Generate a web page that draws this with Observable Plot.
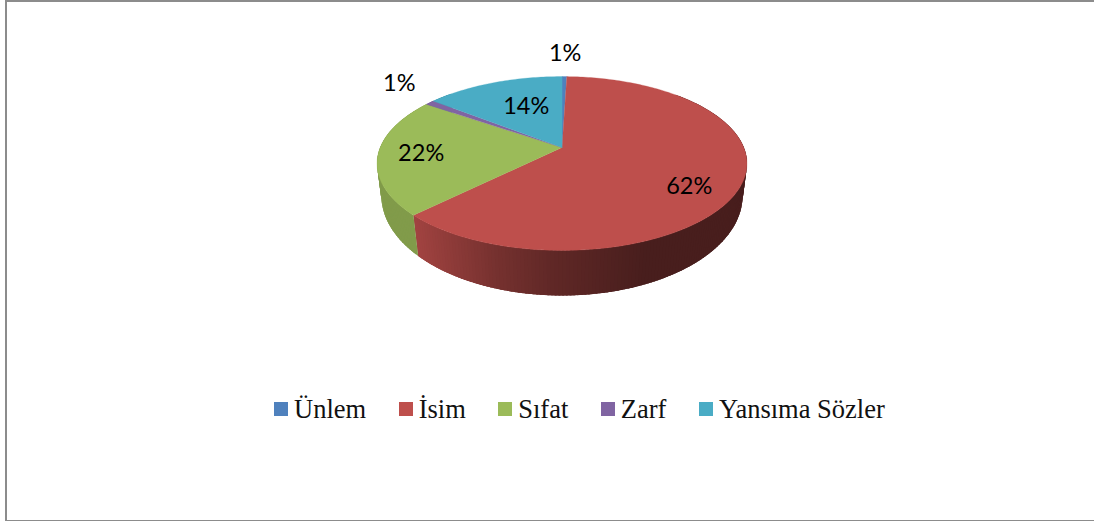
<!DOCTYPE html>
<html lang="tr">
<head>
<meta charset="utf-8">
<script src="https://cdn.jsdelivr.net/npm/d3@7"></script>
<script src="https://cdn.jsdelivr.net/npm/@observablehq/plot@0.6"></script>
<style>
html,body{margin:0;padding:0;background:#fff;overflow:hidden}
#page{position:relative;width:1094px;height:521px;overflow:hidden}
#frame{position:absolute;left:5px;top:0;width:1200px;height:518px;border:2px solid #8c8c8c;box-sizing:content-box}
#chart{position:absolute;left:0;top:0}
#legend{position:absolute;left:274px;top:391px;display:flex;align-items:center;font-family:"Liberation Serif",serif;font-size:26.5px;color:#111;line-height:36px;white-space:nowrap}
.item{display:flex;align-items:center;margin-right:32.5px}
.sw{width:14px;height:14px;margin-right:6px}
</style>
</head>
<body>
<div id="page"><div id="frame"></div><div id="chart"></div><div id="legend"></div></div>
<script>
// Data
const categories = ["Ünlem", "İsim", "Sıfat", "Zarf", "Yansıma Sözler"];
const values = [0.5, 62.1, 22.0, 0.95, 14.45];
const labels = ["1%", "62%", "22%", "1%", "14%"];
const colors = ["#4F81BD", "#BE4F4C", "#9BBB59", "#8064A2", "#4AACC5"];

// Layout
const W = 1094, H = 395;
const cam = {
  top: {cx: 561.5, ay: 147, A: 181.8, B: 84, k: 0.184},
  low: {cx: 561.5, ay: 178, A: 178, B: 97.1, k: 0.17}
};
const labelRadius = [1.41, 0.775, 0.768, 1.363, 0.577];
const labelTurn = [0, 10.2, 0, 4, 4];

function project(deg, r, p) {
  const a = deg * Math.PI / 180, u = r * Math.sin(a), v = -r * Math.cos(a), w = 1 - p.k * v;
  return [p.cx + p.A * u / w, p.ay + p.B * v / w];
}

const total = d3.sum(values);
let acc = 0;
const slices = categories.map((name, i) => {
  const start = acc; acc += values[i];
  return {name, i, a0: start / total * 360, a1: acc / total * 360, color: colors[i], label: labels[i]};
});

const shade = d3.scaleLinear([376, 413, 500, 560, 650, 747], [0.80, 0.86, 0.62, 0.50, 0.38, 0.38]).clamp(true);
const tint = (c, f) => { const q = d3.rgb(c); return d3.rgb(q.r * f, q.g * f, q.b * f).formatHex(); };

// Side wall as overlapping thin strips, then the top face
const wallPts = [], topPts = [];
for (const s of slices) {
  const steps = Math.max(1, Math.ceil(s.a1 - s.a0));
  const angs = d3.range(steps + 1).map(j => s.a0 + (s.a1 - s.a0) * j / steps);
  for (let j = steps - 1; j >= 0; j--) {
    const mid = (angs[j] + angs[j + 1]) / 2;
    if (mid < 45 || mid > 315) continue;
    const f = s.i === 2 ? 0.83 : shade(project(mid, 1, cam.top)[0]);
    const fill = tint(s.color, f), id = s.i + "-" + j;
    const end = Math.min(s.a1, angs[j + 1] + 1.5);
    [[angs[j], cam.top], [end, cam.top], [end, cam.low], [angs[j], cam.low]].forEach(([d, p]) => {
      const [x, y] = project(d, 1, p);
      wallPts.push({id, x, y, fill});
    });
  }
  const [ax, ay] = project(0, 0, cam.top);
  topPts.push({id: s.i, x: ax, y: ay, fill: s.color});
  for (const d of angs) {
    const [x, y] = project(d, 1, cam.top);
    topPts.push({id: s.i, x, y, fill: s.color});
  }
}

const labelPts = slices.map(s => {
  const [x, y] = project((s.a0 + s.a1) / 2 + labelTurn[s.i], labelRadius[s.i], cam.top);
  return {x, y, label: s.label};
});

const chart = Plot.plot({
  width: W, height: H,
  marginTop: 0, marginRight: 0, marginBottom: 0, marginLeft: 0,
  style: {background: "transparent", overflow: "visible"},
  x: {domain: [0, W], range: [0, W], axis: null},
  y: {domain: [0, H], range: [0, H], axis: null},
  color: {type: "identity"},
  marks: [
    Plot.line(wallPts, {x: "x", y: "y", z: "id", fill: "fill", curve: "linear-closed"}),
    Plot.line(topPts, {x: "x", y: "y", z: "id", fill: "fill", stroke: "fill", strokeWidth: 0.3, curve: "linear-closed"}),
    Plot.text(labelPts, {x: "x", y: "y", text: "label", fontSize: 23.5, fontFamily: "Lato, sans-serif", fontWeight: 400, fill: "#000", textAnchor: "middle"})
  ]
});
document.getElementById("chart").append(chart);

const legend = document.getElementById("legend");
categories.forEach((name, i) => {
  const item = document.createElement("div"); item.className = "item";
  const sw = document.createElement("div"); sw.className = "sw"; sw.style.background = colors[i];
  const t = document.createElement("span"); t.textContent = name;
  item.append(sw, t); legend.append(item);
});
</script>
</body>
</html>
